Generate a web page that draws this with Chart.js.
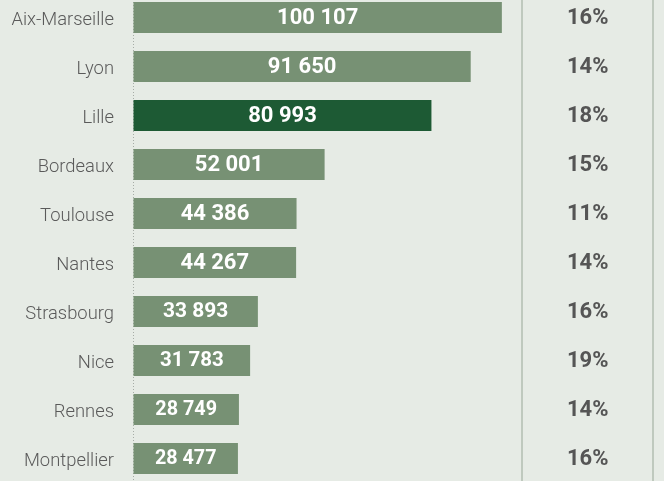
<!DOCTYPE html>
<html>
<head>
<meta charset="utf-8">
<script src="https://cdn.jsdelivr.net/npm/chart.js@4"></script>
<style>
html, body { margin: 0; padding: 0; background: #e6ebe5; overflow: hidden; }
#wrap { position: absolute; left: 0; top: -7px; width: 664px; height: 490px; }
</style>
</head>
<body>
<div id="wrap"><canvas id="chart"></canvas></div>
<script>
// DONNÉES
const villes = ["Aix-Marseille", "Lyon", "Lille", "Bordeaux", "Toulouse", "Nantes", "Strasbourg", "Nice", "Rennes", "Montpellier"];
const valeurs = [100107, 91650, 80993, 52001, 44386, 44267, 33893, 31783, 28749, 28477];
const parts = [16, 14, 18, 15, 11, 14, 16, 19, 14, 16];
const villeMiseEnAvant = "Lille";

const partLabels = parts.map(p => p + "%");
const formatNombre = v => String(v).replace(/\B(?=(\d{3})+(?!\d))/g, " ");

// largeur fixe des axes, sans marge verticale
function fixerAxe(largeur) {
    return s => {
        s.width = largeur;
        s.paddingTop = 0;
        s.paddingBottom = 0;
    };
}

// VALEURS DANS LES BARRES + TRAITS DE LA COLONNE DE DROITE
const etiquettes = {
    id: "etiquettes",
    afterDatasetsDraw(chart) {
        const ctx = chart.ctx;
        const meta = chart.getDatasetMeta(0);
        ctx.save();
        ctx.fillStyle = "#ffffff";
        ctx.textAlign = "center";
        ctx.textBaseline = "middle";
        meta.data.forEach((bar, i) => {
            const w = bar.x - bar.base;
            const size = Math.min(22, 13.5 + w * 0.06);
            ctx.font = `700 ${size}px Roboto`;
            ctx.fillText(formatNombre(valeurs[i]), (bar.x + bar.base) / 2, bar.y + 0.5);
        });
        const s = chart.scales.y2;
        ctx.strokeStyle = "#bfc9be";
        ctx.lineWidth = 2;
        [s.left + 1, s.right + 1].forEach(x => {
            ctx.beginPath();
            ctx.moveTo(x, 0);
            ctx.lineTo(x, chart.height);
            ctx.stroke();
        });
        ctx.restore();
    }
};

new Chart(document.getElementById("chart"), {
    type: "bar",
    data: {
        labels: villes,
        datasets: [{
            data: valeurs,
            backgroundColor: villes.map(v => v === villeMiseEnAvant ? "#1d5a34" : "#779174"),
            barPercentage: 31 / 49,
            categoryPercentage: 1
        }]
    },
    options: {
        indexAxis: "y",
        responsive: true,
        maintainAspectRatio: false,
        animation: false,
        layout: { padding: { left: 0, right: 12, top: 0, bottom: 0 } },
        plugins: { legend: { display: false }, tooltip: { enabled: false } },
        scales: {
            x: {
                type: "linear",
                min: 0,
                max: 105300,
                ticks: { display: false },
                grid: {
                    drawTicks: false,
                    lineWidth: 1,
                    color: c => (c.tick && c.tick.value === 0) ? "#a6aca6" : "rgba(0,0,0,0)"
                },
                border: { display: false, dash: [1, 2] },
                afterFit: s => { s.height = 0; s.paddingLeft = 0; s.paddingRight = 0; }
            },
            y: {
                type: "category",
                position: "left",
                offset: true,
                grid: { display: false, drawTicks: false },
                border: { display: false },
                ticks: { padding: 19, labelOffset: 3, color: "#5a5a5a", font: { family: "Roboto", weight: 300, size: 18.4 } },
                afterFit: fixerAxe(133)
            },
            y2: {
                type: "category",
                position: "right",
                labels: partLabels,
                offset: true,
                grid: { display: false, drawTicks: false },
                border: { display: false },
                ticks: { padding: 46, labelOffset: 1, crossAlign: "center", color: "#555555", font: { family: "Roboto", weight: 700, size: 22 } },
                afterFit: fixerAxe(131)
            }
        }
    },
    plugins: [etiquettes]
});
</script>
</body>
</html>
